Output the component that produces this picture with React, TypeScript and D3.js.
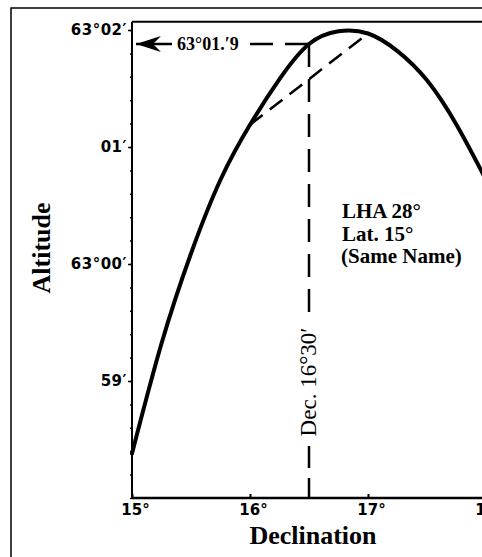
import { useEffect, useRef } from 'react';
import * as d3 from 'd3';

// declination (degrees) and altitude (minutes above 63°00')
const declination = [15.0, 15.25, 15.5, 15.75, 16.0, 16.25, 16.5, 16.75, 17.0, 17.25, 17.5, 17.75, 18.0];
const altitude = [-1.62, -0.68, 0.09, 0.72, 1.19, 1.58, 1.88, 1.99, 1.97, 1.82, 1.57, 1.19, 0.72];

const xTicks = [15, 16, 17, 18];
const xLabels = ['15°', '16°', '17°', '18°'];
const yTicks = [-1, 0, 1, 2];
const yLabels = ['59′', '63°00′', '01′', '63°02′'];

const chordDecs = [16, 17];
const targetDec = 16.5;
const targetAlt = 1.88;

const W = 482;
const H = 557;

const App = () => {
  const xAxisRef = useRef<SVGGElement>(null);
  const yAxisRef = useRef<SVGGElement>(null);
  const yMinorRef = useRef<SVGGElement>(null);

  const x = d3.scaleLinear().domain([15, 18]).range([132, 486]);
  const y = d3.scaleLinear().domain([-2, 2]).range([498, 30]);
  const top = y(2.07);

  const line = d3.line<number>()
    .x((d, i) => x(declination[i]))
    .y(d => y(d))
    .curve(d3.curveNatural);

  const altAt = (dec: number) => altitude[declination.indexOf(dec)];

  useEffect(() => {
    const xa = d3.select(xAxisRef.current);
    xa.selectAll('*').remove();
    xa.call(d3.axisBottom(x).tickValues(xTicks).tickFormat((d, i) => xLabels[i]).tickSize(-4).tickPadding(6));
    xa.select('.domain').remove();
    xa.selectAll('line').attr('stroke', '#000').attr('stroke-width', 2);
    xa.selectAll('text')
      .attr('font-family', '"DejaVu Sans", sans-serif')
      .attr('font-weight', 'bold')
      .attr('font-size', 15)
      .attr('dx', 3)
      .attr('fill', '#000');

    const ya = d3.select(yAxisRef.current);
    ya.selectAll('*').remove();
    ya.call(d3.axisLeft(y).tickValues(yTicks).tickFormat((d, i) => yLabels[i]).tickSize(4).tickPadding(1));
    ya.select('.domain').remove();
    ya.selectAll('line').attr('stroke', '#000').attr('stroke-width', 1.5);
    ya.selectAll('text')
      .attr('font-family', '"DejaVu Sans", sans-serif')
      .attr('font-weight', 'bold')
      .attr('font-size', 15)
      .attr('letter-spacing', 0.5)
      .attr('fill', '#000');

    const ym = d3.select(yMinorRef.current);
    ym.selectAll('*').remove();
    ym.call(d3.axisLeft(y).tickValues(d3.range(-2, 2.01, 0.2)).tickFormat(() => '').tickSize(2));
    ym.select('.domain').remove();
    ym.selectAll('line').attr('stroke', '#000').attr('stroke-width', 1.5);
  }, []);

  const tx = x(targetDec);
  const ty = y(targetAlt);

  return (
    <svg width={W} height={H} style={{ position: 'absolute', left: 0, top: 0, background: '#fff' }}>
      <rect x={11} y={8} width={W + 20} height={H + 20} fill="none" stroke="#000" strokeWidth={1.5} />

      {/* plot frame */}
      <line x1={x(15)} x2={W + 5} y1={top} y2={top} stroke="#000" strokeWidth={2} />
      <line x1={x(15)} x2={x(15)} y1={top} y2={y(-2)} stroke="#000" strokeWidth={2} />
      <line x1={x(15)} x2={W + 5} y1={y(-2)} y2={y(-2)} stroke="#000" strokeWidth={2.5} />

      <g ref={yMinorRef} transform={`translate(${x(15)},0)`} />
      <g ref={yAxisRef} transform={`translate(${x(15)},0)`} />
      <g ref={xAxisRef} transform={`translate(0,${y(-2)})`} />

      {/* chord between 16° and 17° */}
      <line
        x1={x(chordDecs[0])} y1={y(altAt(chordDecs[0]))}
        x2={x(chordDecs[1])} y2={y(altAt(chordDecs[1]))}
        stroke="#000" strokeWidth={2.5} strokeDasharray="16 9"
      />

      {/* altitude curve */}
      <path d={line(altitude) || ''} fill="none" stroke="#000" strokeWidth={4} strokeLinecap="round" />

      {/* vertical dashed line at Dec 16°30' */}
      <line x1={tx} x2={tx} y1={ty} y2={318} stroke="#000" strokeWidth={2.5} strokeDasharray="23 12" />
      <line x1={tx} x2={tx} y1={446} y2={y(-2)} stroke="#000" strokeWidth={2.5} strokeDasharray="22 10" />
      <text
        transform={`translate(${tx + 7},382) rotate(-90)`}
        textAnchor="middle"
        fontFamily='"Liberation Serif", serif'
        fontSize={23}
        fill="#000"
      >
        Dec. 16°30′
      </text>

      {/* horizontal dashed line with arrow */}
      <line x1={250} x2={tx} y1={ty} y2={ty} stroke="#000" strokeWidth={2.5} strokeDasharray="23 12" />
      <line x1={x(15) + 4} x2={172} y1={ty} y2={ty} stroke="#000" strokeWidth={2.5} />
      <path
        d={`M${x(15) + 4},${ty} L${x(15) + 29},${ty - 8} L${x(15) + 21},${ty} L${x(15) + 29},${ty + 8} Z`}
        fill="#000"
      />
      <text x={177} y={ty + 6} fontFamily='"Liberation Serif", serif' fontWeight="bold" fontSize={18} fill="#000">
        63°01.′9
      </text>

      {/* annotation */}
      <g fontFamily='"Liberation Serif", serif' fontWeight="bold" fontSize={21} fill="#000">
        <text x={342} y={218}>LHA 28°</text>
        <text x={342} y={241}>Lat. 15°</text>
        <text x={341} y={263}>(Same Name)</text>
      </g>

      {/* axis titles */}
      <text
        transform="translate(50,248) rotate(-90)"
        textAnchor="middle"
        fontFamily='"Liberation Serif", serif'
        fontWeight="bold"
        fontSize={26}
        fill="#000"
      >
        Altitude
      </text>
      <text
        x={313}
        y={544}
        textAnchor="middle"
        fontFamily='"Liberation Serif", serif'
        fontWeight="bold"
        fontSize={26}
        fill="#000"
      >
        Declination
      </text>
    </svg>
  );
};

export default App;
